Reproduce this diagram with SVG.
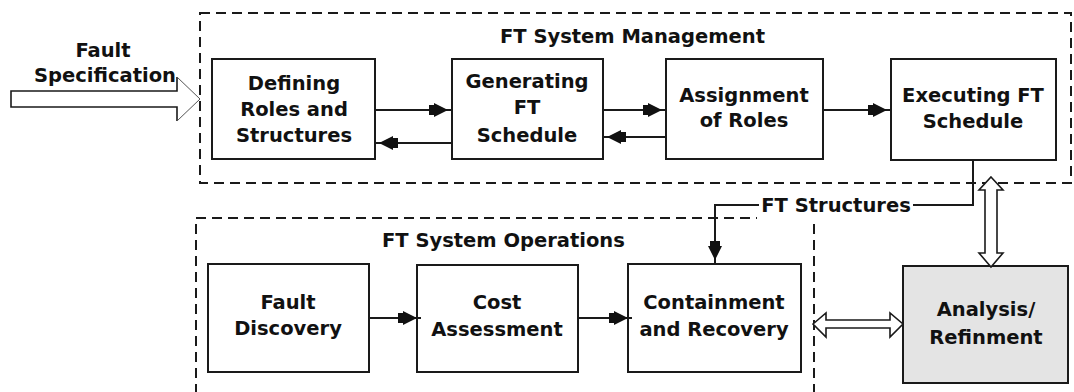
<svg xmlns="http://www.w3.org/2000/svg" width="1074" height="392" viewBox="0 0 1074 392">
  <style>
    .box { fill: #ffffff; stroke: #1a1a1a; stroke-width: 2; }
    .grey { fill: #e4e4e4; }
    .group { fill: none; stroke: #1a1a1a; stroke-width: 2; stroke-dasharray: 10 6; }
    .lbl { font-family: "DejaVu Sans", "Liberation Sans", sans-serif; font-weight: bold; font-size: 19.5px; fill: #111111; text-anchor: middle; }
    .title { text-anchor: start; }
    .conn { fill: none; stroke: #1a1a1a; stroke-width: 2; }
    .hollow { fill: #ffffff; stroke: #1a1a1a; stroke-width: 1.6; stroke-linejoin: miter; }
  </style>
  <defs>
    <marker id="ah" markerUnits="userSpaceOnUse" markerWidth="26" markerHeight="16" viewBox="0 0 26 16" refX="23" refY="8" orient="auto">
      <path d="M0,3 L5,3 L5,1 L19,8 L5,15 L5,13 L0,13 z" fill="#111111"/>
    </marker>
  </defs>

  <rect width="1074" height="392" fill="#ffffff"/>

  <!-- dashed group frames -->
  <g id="ft-system-management">
    <rect class="group" x="200" y="13" width="871" height="170"/>
    <text class="lbl title" x="500" y="43">FT System Management</text>
  </g>
  <g id="ft-system-operations">
    <rect class="group" x="196" y="218" width="618" height="190"/>
    <text class="lbl title" x="382" y="247">FT System Operations</text>
  </g>

  <!-- incoming specification arrow -->
  <g id="fault-specification">
    <path class="hollow" d="M177,77 V91 H11 V107 H177 V121"/>
    <path d="M177,77 L200,99 L177,121" fill="none" stroke="#555555" stroke-width="1"/>
    <text class="lbl" x="103" y="57">Fault</text>
    <text class="lbl" x="105" y="82">Specification</text>
  </g>

  <!-- management nodes -->
  <g id="defining-roles">
    <rect class="box" x="212" y="59" width="163" height="100"/>
    <text class="lbl" x="294" y="90">Defining</text>
    <text class="lbl" x="294" y="116">Roles and</text>
    <text class="lbl" x="294" y="142">Structures</text>
  </g>
  <g id="generating-schedule">
    <rect class="box" x="452" y="59" width="151" height="100"/>
    <text class="lbl" x="527" y="88">Generating</text>
    <text class="lbl" x="527" y="114">FT</text>
    <text class="lbl" x="527" y="142">Schedule</text>
  </g>
  <g id="assignment-of-roles">
    <rect class="box" x="666" y="59" width="157" height="100"/>
    <text class="lbl" x="744" y="102">Assignment</text>
    <text class="lbl" x="744" y="127">of Roles</text>
  </g>
  <g id="executing-schedule">
    <rect class="box" x="891" y="59" width="165" height="101"/>
    <text class="lbl" x="973" y="102">Executing FT</text>
    <text class="lbl" x="973" y="128">Schedule</text>
  </g>

  <!-- operations nodes -->
  <g id="fault-discovery">
    <rect class="box" x="208" y="264" width="161" height="108"/>
    <text class="lbl" x="288" y="309">Fault</text>
    <text class="lbl" x="288" y="335">Discovery</text>
  </g>
  <g id="cost-assessment">
    <rect class="box" x="417" y="265" width="161" height="107"/>
    <text class="lbl" x="497" y="309">Cost</text>
    <text class="lbl" x="497" y="336">Assessment</text>
  </g>
  <g id="containment-recovery">
    <rect class="box" x="628" y="264" width="173" height="108"/>
    <text class="lbl" x="714" y="309">Containment</text>
    <text class="lbl" x="714" y="336">and Recovery</text>
  </g>
  <g id="analysis-refinement">
    <rect class="box grey" x="903" y="266" width="165" height="117"/>
    <text class="lbl" x="986" y="316">Analysis/</text>
    <text class="lbl" x="986" y="344">Refinment</text>
  </g>

  <!-- connectors -->
  <g id="connectors">
    <path class="conn" d="M375,110 H452" marker-end="url(#ah)"/>
    <path class="conn" d="M452,143 H375" marker-end="url(#ah)"/>
    <path class="conn" d="M603,110 H666" marker-end="url(#ah)"/>
    <path class="conn" d="M666,137 H603" marker-end="url(#ah)"/>
    <path class="conn" d="M823,110 H891" marker-end="url(#ah)"/>
    <path class="conn" d="M369,318 H421" marker-end="url(#ah)"/>
    <path class="conn" d="M578,318 H632" marker-end="url(#ah)"/>

    <!-- structures feed from schedule execution to containment -->
    <rect x="757" y="194" width="157" height="27" fill="#ffffff"/>
    <path class="conn" d="M973,160 V205 H913"/>
    <path class="conn" d="M759,205 H715 V264" marker-end="url(#ah)"/>
    <text class="lbl" x="836" y="212">FT Structures</text>

    <!-- two-way hollow arrows -->
    <path class="hollow" d="M991,177 L1003,190 H997 V253 H1003 L991,267 L979,253 H985 V190 H979 Z"/>
    <path class="hollow" d="M813,324 L826,313 V320 H890 V313 L903,324 L890,337 V328 H826 V337 Z"/>
  </g>
</svg>
